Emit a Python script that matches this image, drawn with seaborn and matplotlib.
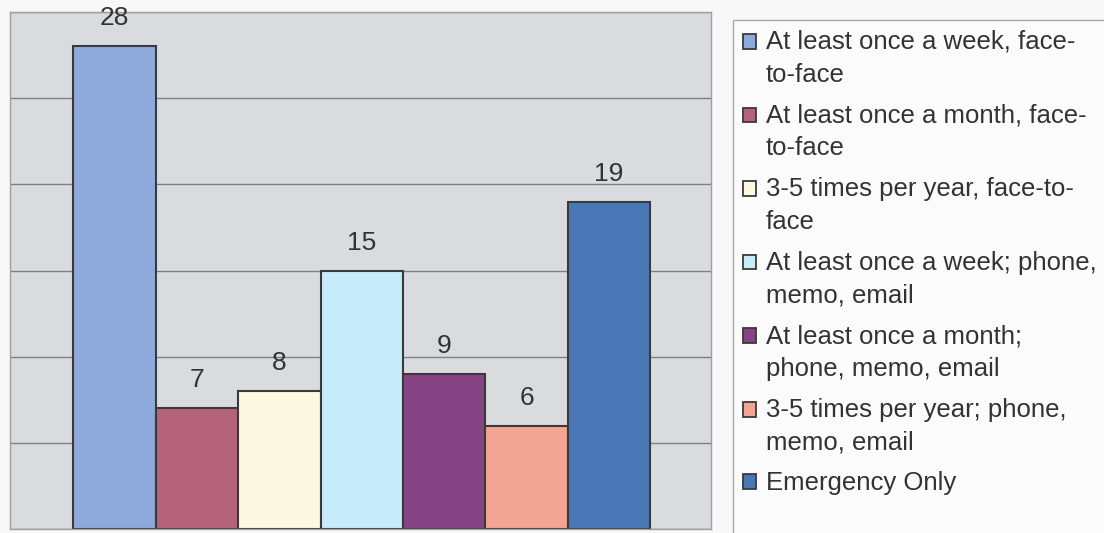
import textwrap
import matplotlib
matplotlib.use("Agg")
import matplotlib.pyplot as plt
import seaborn as sns
from matplotlib.patches import Rectangle
from matplotlib.legend_handler import HandlerPatch

# data
categories = ["At least once a week, face-to-face",
              "At least once a month, face-to-face",
              "3-5 times per year, face-to-face",
              "At least once a week; phone, memo, email",
              "At least once a month; phone, memo, email",
              "3-5 times per year; phone, memo, email",
              "Emergency Only"]
values = [28, 7, 8, 15, 9, 6, 19]
colors = ["#8eaadc", "#b4637b", "#fdf8e1", "#c6ebf9", "#874485", "#f2a594", "#4a78b6"]

sns.set_theme(style="white")
plt.rcParams['font.family'] = ['Liberation Sans', 'DejaVu Sans']

fig = plt.figure(figsize=(11.04, 5.33), dpi=100, facecolor="#f8f8f8")
ax = fig.add_axes([10 / 1104, 4 / 533, 701 / 1104, 517 / 533])
ax.set_facecolor("#d9dbdf")

sns.barplot(x=categories, y=values, hue=categories, palette=colors, width=1,
            saturation=1, edgecolor="#3a3a3a", linewidth=1.5, legend=False, ax=ax)

for c in ax.containers:
    ax.bar_label(c, fontsize=19, color="#333333", padding=11.5)

ax.set_ylim(0, 30)
ax.set_yticks(range(0, 31, 5))
ax.set_xlim(-1.27, 7.24)
ax.set_xticks([])
ax.tick_params(left=False, labelleft=False)
ax.set_xlabel("")
ax.set_ylabel("")
ax.yaxis.grid(True, color="#808080", linewidth=1)
ax.set_axisbelow(True)
for s in ax.spines.values():
    s.set_color("#a0a0a0")
    s.set_linewidth(1)

# legend box
fig.patches.append(Rectangle((733 / 1104, -0.1), 0.5, (533 - 20) / 533 + 0.1,
                             transform=fig.transFigure, facecolor="#fbfbfb",
                             edgecolor="#a8a8a8", linewidth=1, zorder=0))


def top_patch(shift):
    def f(legend, orig_handle, xdescent, ydescent, width, height, fontsize):
        return Rectangle((-xdescent, -ydescent + shift), width, height)
    return f


handles = []
labels = []
hmap = {}
for cat, col in zip(categories, colors):
    h = Rectangle((0, 0), 1, 1, facecolor=col, edgecolor="#3a3a3a", linewidth=1.3)
    lab = textwrap.fill(cat, width=28)
    nlines = lab.count("\n") + 1
    hmap[h] = HandlerPatch(patch_func=top_patch(12.5 * (nlines - 1)))
    handles.append(h)
    labels.append(lab)

leg = fig.legend(handles, labels, loc="upper left",
                 bbox_to_anchor=(743 / 1104, (533 - 30) / 533),
                 frameon=False, fontsize=18.5, handlelength=0.5, handleheight=0.5,
                 handletextpad=0.38, labelspacing=0.655, borderpad=0, borderaxespad=0,
                 handler_map=hmap)
for t in leg.get_texts():
    t.set_color("#333333")
    t.set_linespacing(1.46)

fig.savefig("out.png", dpi=100, facecolor=fig.get_facecolor())
